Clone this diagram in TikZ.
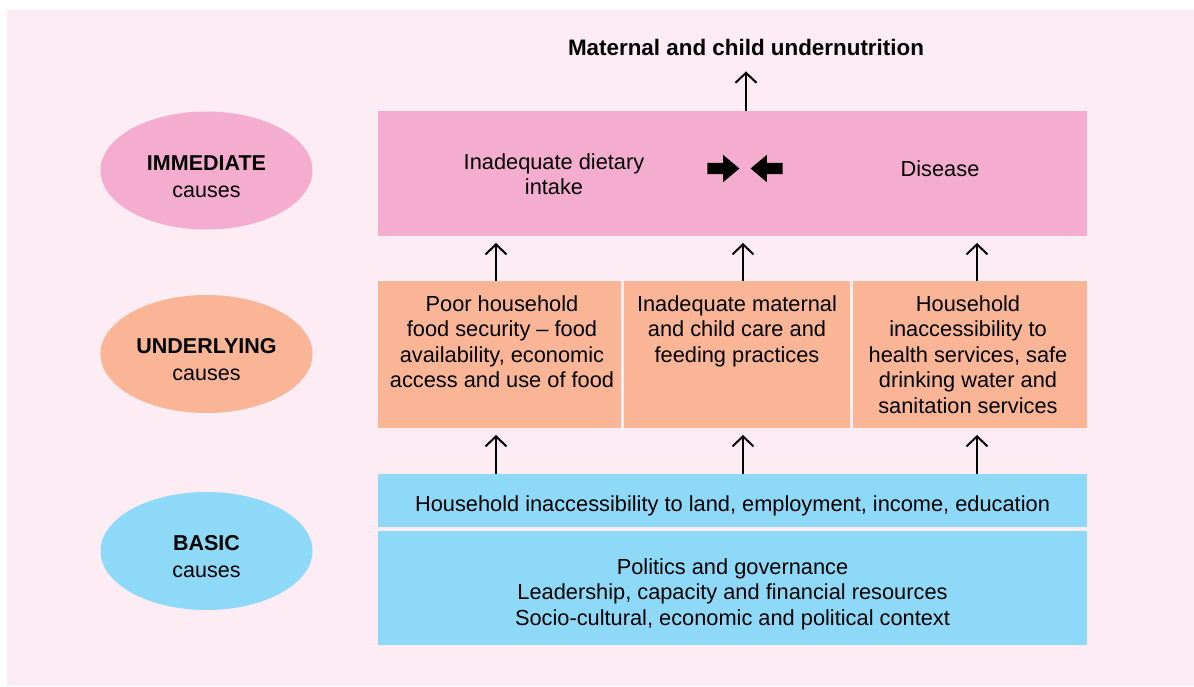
\documentclass[tikz,border=0pt]{standalone}
\usepackage{fontspec}
\setmainfont{Liberation Sans}
\usetikzlibrary{arrows.meta,positioning,shapes}

\definecolor{pagebg}{HTML}{FDECF4}
\definecolor{immpink}{HTML}{F5ADCF}
\definecolor{undsalmon}{HTML}{F9B595}
\definecolor{basblue}{HTML}{8ED9F7}

\tikzset{
  box/.style={rectangle,inner sep=0pt,outer sep=0pt},
  txt/.style={align=center,inner sep=0pt,font=\fontsize{21.8}{25.5}\selectfont},
  level/.style={ellipse,inner sep=0pt,minimum width=212pt,minimum height=118pt,
    align=center,font=\fontsize{21.5}{27}\selectfont},
  up/.style={line width=2pt,-{Straight Barb[length=10pt,width=21pt,line width=2pt]}},
  bigarrow/.style={single arrow,fill=black,inner sep=5.5pt,minimum height=32pt,
    single arrow head extend=8pt,single arrow tip angle=80}
}

\begin{document}
\begin{tikzpicture}[x=1pt,y=-1pt]
\useasboundingbox (0,0) rectangle (1194,686);
\fill[pagebg] (7,10) rectangle (1194,686);

% levels
\node[level,fill=immpink] (lvimm) at (206.5,170.5) {};
\node[level,fill=undsalmon] (lvund) at (206.5,354) {};
\node[level,fill=basblue] (lvbas) at (206.5,551) {};
\node[level,anchor=center] at ([yshift=-6pt]lvimm.center) {\textbf{IMMEDIATE}\\causes};
\node[level,anchor=center] at ([yshift=-6pt]lvund.center) {\textbf{UNDERLYING}\\causes};
\node[level,anchor=center] at ([yshift=-6pt]lvbas.center) {\textbf{BASIC}\\causes};

% boxes
\node[box,fill=immpink,minimum width=709pt,minimum height=125pt] (imm) at (732.5,173.5) {};
\node[box,fill=undsalmon,minimum width=243pt,minimum height=147pt] (und1) at (499.5,354.5) {};
\node[box,fill=undsalmon,minimum width=226pt,minimum height=147pt] (und2) at (737,354.5) {};
\node[box,fill=undsalmon,minimum width=234pt,minimum height=147pt] (und3) at (970,354.5) {};
\node[box,fill=basblue,minimum width=709pt,minimum height=53pt] (bas1) at (732.5,500.5) {};
\node[box,fill=basblue,minimum width=709pt,minimum height=114pt] (bas2) at (732.5,588) {};

% texts
\node[txt,font=\bfseries\fontsize{22.4}{25}\selectfont] (title) at (746,47) {Maternal and child undernutrition};
\node[txt] (diet) at (554,174) {Inadequate dietary\\intake};
\node[txt] (dis) at (940,169) {Disease};
\node[bigarrow] (push1) at (720,168.5) {};
\node[bigarrow,shape border rotate=180] (push2) at (770,168.5) {};
\node[txt,anchor=north] (t1) at (502,295) {Poor household\\food security -- food\\availability, economic\\access and use of food};
\node[txt,anchor=north] (t2) at (737,295) {Inadequate maternal\\and child care and\\feeding practices};
\node[txt,anchor=north] (t3) at (968,295) {Household\\inaccessibility to\\health services, safe\\drinking water and\\sanitation services};
\node[txt] (t4) at (732.5,506) {Household inaccessibility to land, employment, income, education};
\node[txt] (t5) at (732.5,594) {Politics and governance\\Leadership, capacity and financial resources\\Socio-cultural, economic and political context};

% arrows
\coordinate (c1) at (496,0);
\coordinate (c2) at (743,0);
\coordinate (c3) at (977,0);
\draw[up,shorten >=16pt] (imm.north -| title) -- (title.south);
\foreach \c/\u in {c1/und1,c2/und2,c3/und3}{
  \draw[up,shorten >=7pt] (\u.north -| \c) -- (imm.south -| \c);
  \draw[up,shorten >=7pt] (bas1.north -| \c) -- (\u.south -| \c);
}
\end{tikzpicture}
\end{document}
